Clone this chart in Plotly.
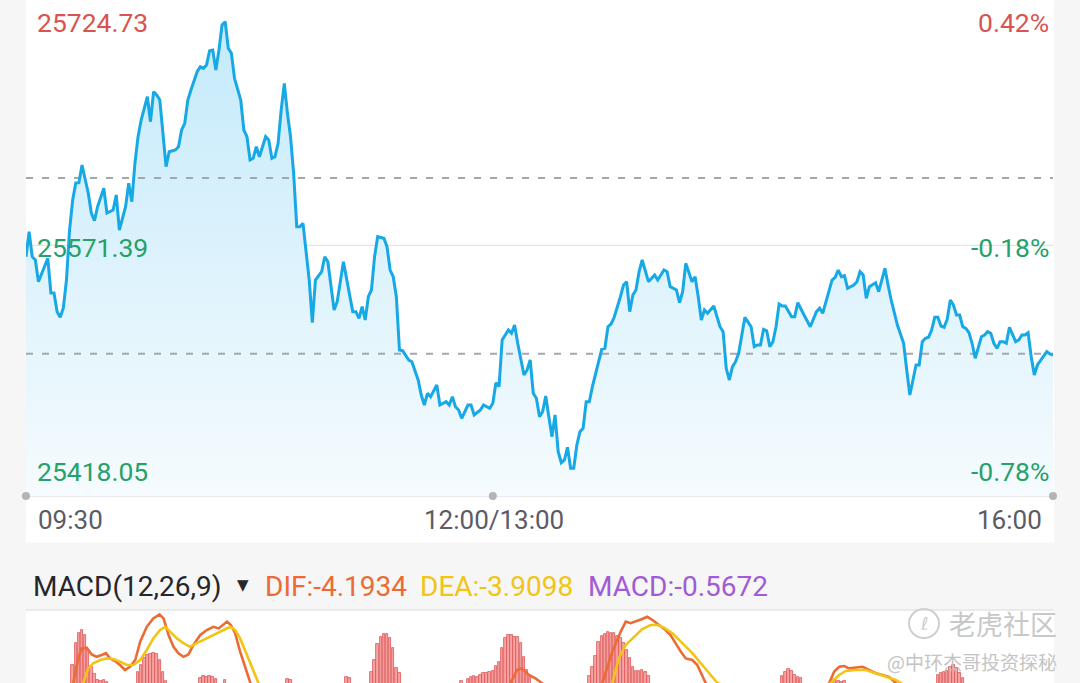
import plotly.graph_objects as go

W, H = 1080, 683

# ---------------- data ----------------
# intraday minute index (0 = 09:30, lunch break removed, 330 = 16:00)
minutes = [0, 1, 2, 3, 4, 7, 8, 9, 10, 11, 12, 13, 14, 15, 16, 17, 18, 20, 21, 22, 23, 25, 26, 28, 29, 30,
           32, 33, 34, 35, 36, 37, 39, 40, 41, 42, 43, 44, 45, 46, 48, 49, 50, 51, 52, 53, 55, 56, 57, 58,
           59, 60, 61, 62, 63, 64, 65, 66, 67, 69, 70, 71, 72, 73, 74, 75, 77, 78, 79, 80, 81, 82, 83, 84,
           85, 86, 87, 88, 89, 91, 92, 93, 95, 96, 97, 99, 100, 102, 104, 105, 106, 107, 108, 109, 110, 111,
           112, 113, 115, 116, 117, 118, 119, 120, 121, 123, 124, 126, 127, 128, 129, 130, 132, 133, 135, 136,
           137, 138, 139, 140, 142, 143, 144, 146, 147, 149, 150, 151, 152, 153, 155, 156, 157, 158, 160, 161,
           162, 163, 164, 165, 166, 167, 168, 169, 170, 171, 172, 173, 174, 175, 176, 177, 178, 179, 180, 181,
           182, 184, 185, 186, 187, 188, 189, 191, 192, 193, 194, 195, 196, 197, 198, 200, 202, 203, 205, 206,
           207, 209, 210, 211, 212, 214, 215, 216, 217, 218, 219, 221, 223, 224, 225, 226, 227, 228, 229, 231,
           232, 233, 234, 235, 236, 237, 238, 239, 240, 241, 242, 243, 244, 246, 247, 248, 250, 251, 252, 254,
           255, 256, 258, 259, 260, 261, 262, 263, 264, 266, 267, 268, 269, 270, 271, 273, 274, 275, 276, 277,
           278, 280, 281, 282, 283, 284, 285, 286, 287, 288, 289, 290, 291, 292, 293, 294, 295, 296, 297, 298,
           299, 300, 301, 302, 303, 304, 305, 306, 307, 308, 309, 310, 311, 312, 313, 314, 315, 316, 318, 319,
           320, 321, 322, 323, 324, 325, 326, 327, 328, 329, 330]
prices = [25564.43, 25579.72, 25564.43, 25562.41, 25549.14, 25563.45, 25542.23, 25542.23, 25530.79, 25527.36,
          25533.05, 25550.18, 25580.76, 25599.11, 25609.51, 25609.70, 25620.52, 25603.40, 25591.16, 25586.45,
          25595.02, 25606.27, 25591.16, 25593.00, 25602.17, 25580.76, 25595.02, 25609.33, 25598.07, 25621.56,
          25637.83, 25648.05, 25662.30, 25647.01, 25665.36, 25663.34, 25660.28, 25641.93, 25619.48, 25628.66,
          25629.70, 25631.72, 25641.93, 25646.03, 25660.28, 25666.40, 25677.59, 25680.65, 25679.67, 25681.69,
          25690.44, 25690.87, 25678.63, 25690.87, 25706.16, 25708.18, 25691.91, 25688.85, 25673.56, 25660.28,
          25641.93, 25637.83, 25623.58, 25624.62, 25631.72, 25625.60, 25637.83, 25635.82, 25624.62, 25625.60,
          25633.80, 25654.17, 25670.50, 25652.15, 25637.83, 25615.45, 25582.78, 25582.78, 25584.86, 25550.18,
          25524.06, 25550.18, 25555.26, 25564.43, 25561.37, 25531.83, 25536.90, 25561.37, 25539.96, 25530.79,
          25530.79, 25526.75, 25533.85, 25525.71, 25539.96, 25544.06, 25564.43, 25576.66, 25575.69, 25570.55,
          25556.29, 25552.20, 25539.96, 25507.36, 25506.93, 25501.24, 25500.20, 25489.01, 25479.83, 25473.71,
          25480.87, 25478.79, 25485.95, 25473.71, 25475.73, 25473.71, 25478.79, 25472.67, 25470.66, 25465.58,
          25473.71, 25473.71, 25467.60, 25470.66, 25473.71, 25471.70, 25474.75, 25487.36, 25484.91, 25513.48,
          25519.59, 25517.57, 25522.65, 25511.46, 25492.07, 25495.12, 25501.24, 25480.87, 25477.81, 25466.56,
          25469.62, 25479.22, 25466.56, 25454.32, 25467.60, 25445.15, 25438.42, 25440.07, 25447.84, 25434.99,
          25434.99, 25449.25, 25457.38, 25459.46, 25475.73, 25475.73, 25484.91, 25500.20, 25507.79, 25508.40,
          25521.61, 25523.26, 25527.36, 25539.96, 25547.12, 25549.14, 25530.79, 25541.00, 25544.06, 25555.26,
          25562.41, 25549.14, 25553.24, 25550.18, 25556.29, 25555.26, 25546.08, 25544.06, 25536.29, 25543.02,
          25560.39, 25549.14, 25552.20, 25539.96, 25525.71, 25531.83, 25529.81, 25534.27, 25521.61, 25518.55,
          25496.16, 25489.01, 25497.14, 25500.20, 25505.34, 25527.36, 25524.67, 25521.61, 25509.38, 25510.42,
          25510.42, 25520.02, 25519.16, 25509.38, 25512.44, 25521.61, 25535.50, 25534.27, 25534.27, 25527.73,
          25527.73, 25536.29, 25528.77, 25524.67, 25521.61, 25530.79, 25532.87, 25529.81, 25543.02, 25550.18,
          25551.83, 25556.29, 25552.20, 25552.81, 25545.10, 25547.12, 25549.14, 25555.26, 25553.24, 25538.98,
          25546.08, 25548.53, 25543.02, 25550.18, 25557.33, 25547.12, 25537.94, 25522.65, 25517.57, 25511.46,
          25495.12, 25479.83, 25489.01, 25498.18, 25498.18, 25512.44, 25514.52, 25515.13, 25519.59, 25527.36,
          25527.36, 25522.04, 25521.24, 25526.14, 25537.94, 25534.88, 25528.77, 25528.77, 25521.61, 25520.63,
          25517.94, 25511.46, 25502.28, 25509.01, 25515.49, 25516.53, 25518.55, 25517.57, 25511.46, 25508.40,
          25512.44, 25512.44, 25511.46, 25521.24, 25512.44, 25513.48, 25516.53, 25516.53, 25517.94, 25503.26,
          25492.07, 25498.18, 25500.81, 25503.69, 25506.32, 25504.91, 25504.30]

range_top = 25724.73
range_mid = 25571.39
range_bottom = 25418.05
price_labels = ["25724.73", "25571.39", "25418.05"]
pct_labels = ["0.42%", "-0.18%", "-0.78%"]
dash_levels = [25612.6, 25505.0]
time_ticks = [0, 150, 330]
time_labels = ["09:30", "12:00/13:00", "16:00"]

# MACD histogram (visible positive bars)
macd_bar_minutes = [15, 16, 17, 18, 19, 20, 21, 22, 23, 24, 25, 26,
                    36, 37, 38, 39, 40, 41, 42, 43, 44, 45,
                    56, 57, 58, 59, 60, 61, 64, 84, 85, 103, 104,
                    111, 112, 113, 114, 115, 116, 117, 118, 119, 120,
                    140, 142, 143, 144, 145, 146, 147, 148, 149, 150, 151, 152, 153, 154, 155, 156, 157, 158,
                    159, 160, 161, 162,
                    181, 182, 183, 184, 185, 186, 187, 188, 189, 190, 191, 192, 193, 194, 195, 196, 197, 198,
                    199, 200,
                    243, 244, 245, 246, 247, 248, 249, 259, 260, 261, 262, 263,
                    293, 294, 295, 296, 297, 298, 299, 300, 301]
macd_bar_values = [13.75, 19.25, 21.75, 22.5, 21.25, 17.5, 13.25, 11.5, 10.0, 9.75, 10.0, 9.5,
                   12.0, 13.75, 15.5, 16.25, 16.5, 16.75, 16.5, 15.0, 12.0, 9.75,
                   10.5, 11.0, 10.75, 11.0, 10.75, 10.25, 10.0, 10.25, 10.0, 10.75, 10.5,
                   12.0, 15.0, 19.0, 20.75, 21.5, 21.5, 20.5, 18.0, 13.0, 11.75,
                   9.75, 10.25, 10.75, 11.0, 10.75, 11.25, 11.75, 11.75, 12.0, 12.25, 13.5, 14.5, 18.0, 20.5,
                   21.25, 21.25, 20.75, 20.75, 19.25, 15.75, 12.5, 10.75,
                   11.0, 13.25, 16.0, 19.5, 21.0, 21.5, 22.0, 21.75, 21.75, 21.0, 20.5, 19.25, 17.5, 15.5,
                   13.25, 12.25, 12.25, 12.5, 12.0, 11.0,
                   11.0, 12.0, 12.75, 12.25, 11.25, 10.75, 10.5, 10.0, 10.25, 9.75, 9.5, 9.75,
                   11.25, 11.75, 12.0, 12.25, 13.25, 13.75, 13.0, 11.75, 10.5]

dif_minutes = [0, 13, 15.2, 16.8, 17.9, 19.5, 21.1, 22.7, 24.3, 25.7, 27.0, 28.6, 30.2, 31.8, 33.4, 35.1, 36.7,
               38.8, 40.9, 42.9, 44.2, 45.8, 47.4, 49.0, 50.6, 52.2, 53.8, 56.0, 58.1, 60.2, 61.9, 62.9, 64.6,
               65.8, 67.2, 68.8, 70.4, 71.5, 76, 90, 110, 130, 150, 155.7, 157.8, 158.9, 159.9, 161.6, 163.7,
               165.3, 170, 178, 183, 185.2, 188.4, 191.1, 192.7, 194.3, 195.9, 198.0, 199.6, 201.3, 203.4,
               205.5, 207.1, 208.7, 210.4, 212.0, 214.1, 215.7, 217.3, 218.4, 225, 240, 252, 256, 258.1, 259.7,
               261.3, 262.9, 264.5, 266.6, 268.8, 270.9, 273.1, 275.2, 277.3, 279.5, 285, 295, 305, 315, 330]
dif_values = [0, 4, 9.25, 15.4, 17.9, 18.1, 16.4, 15.8, 16.25, 16.7, 15.4, 14.75, 13.75, 12.5, 13.3, 15.0, 19.6,
              23.3, 25.4, 26.4, 25.4, 21.25, 18.3, 16.7, 15.8, 16.4, 18.75, 21.25, 22.5, 23.3, 22.9, 23.6, 24.6,
              23.75, 21.7, 17.1, 12.5, 9.25, 0, -12, -15, -12, 2, 9.25, 12.5, 12.9, 12.5, 11.25, 10.4,
              9.5, 7, -2, 5, 9.25, 17.1, 22.1, 24.6, 24.2, 24.6, 25.25, 25.8, 25.0, 23.75,
              22.5, 21.25, 19.2, 17.1, 15.4, 15.0, 13.75, 11.25, 9.25, 4, 2, 5, 7, 9.25, 12.1,
              13.3, 13.5, 12.9, 13.1, 13.3, 12.5, 11.7, 11.25, 10.8, 9.25, 4, 2, 1, -1, -4.1934]

dea_minutes = [0, 15, 18.4, 20.0, 21.6, 23.8, 26.0, 28.1, 30.2, 32.4, 34.5, 36.7, 38.8, 40.9, 43.1, 44.7, 46.3,
               48.5, 50.6, 52.7, 54.9, 57.0, 59.2, 61.3, 63.5, 65.6, 67.2, 68.8, 71.0, 73.1, 74.7, 80, 100, 130,
               160, 180, 185, 188.4, 190.5, 192.7, 195.3, 198.0, 200.7, 202.9, 205.0, 207.7, 210.9, 214.1,
               217.3, 220.5, 222.2, 240, 254, 258.6, 261.3, 263.4, 266.6, 269.9, 273.1, 276.3, 279.5, 281.1,
               290, 310, 330]
dea_values = [0, 3, 9.25, 12.9, 14.2, 15.0, 15.4, 15.25, 14.6, 13.75, 13.75, 15.0, 17.5, 20.4, 22.5, 23.3, 22.1,
              20.4, 19.2, 18.3, 19.2, 20.0, 20.8, 21.7, 22.5, 23.3, 22.5, 20.4, 16.25, 12.1, 9.25, 4, -8, -10,
              -2, 0, 4, 9.25, 15.4, 18.75, 20.8, 22.75, 23.75, 23.75, 23.1, 21.7, 19.2, 16.7,
              13.75, 10.8, 9.25, 4, 6, 9.25, 11.25, 12.25, 12.5, 12.5, 11.7, 10.8, 10.0, 9.25,
              5, 1, -3.9098]

macd_title = "MACD(12,26,9)"
dif_label = "DIF:-4.1934"
dea_label = "DEA:-3.9098"
macd_label = "MACD:-0.5672"

# ---------------- styling ----------------
RED = "#d9534f"
GREEN = "#27a06a"
GRAY_TXT = "#5b5b66"
LINE_BLUE = "#17a8e6"
DIF_C = "#ec6b35"
DEA_C = "#f2c414"
MACD_C = "#a25bd6"

X0, X1 = 26, 1053          # plot left / right pixel
MAIN_BOTTOM = 496          # pixel of the main plot bottom
MACD_TOP = 610
px_per_val = 0.6117        # value units per pixel in main panel


def px(x):
    return x / W


def py(y):
    return 1 - y / H


fig = go.Figure()

# area fill
fig.add_trace(go.Scatter(
    x=minutes, y=prices, mode="lines", line=dict(width=0, color=LINE_BLUE),
    fill="tozeroy",
    fillgradient=dict(type="vertical",
                      colorscale=[[0, "#f5fbfe"], [1, "#c2e9fa"]],
                      start=range_bottom, stop=range_bottom + MAIN_BOTTOM * px_per_val),
    hoverinfo="skip", showlegend=False, xaxis="x", yaxis="y"))

# dashed reference lines
for lv in dash_levels:
    fig.add_trace(go.Scatter(
        x=[time_ticks[0], time_ticks[-1]], y=[lv, lv], mode="lines",
        line=dict(color="#a3a7ae", width=2, dash="7px,9px"),
        hoverinfo="skip", showlegend=False, xaxis="x", yaxis="y"))

# price line
fig.add_trace(go.Scatter(
    x=minutes, y=prices, mode="lines", line=dict(width=3, color=LINE_BLUE),
    showlegend=False, xaxis="x", yaxis="y"))

# axis dots
fig.add_trace(go.Scatter(
    x=time_ticks, y=[range_bottom] * len(time_ticks), mode="markers",
    marker=dict(size=8, color="#b4b4b8"), cliponaxis=False,
    hoverinfo="skip", showlegend=False, xaxis="x", yaxis="y"))

# MACD histogram
fig.add_trace(go.Bar(
    x=macd_bar_minutes, y=macd_bar_values, width=0.8,
    marker=dict(color="#f5a3a3", line=dict(color="#de5656", width=0.8)),
    showlegend=False, xaxis="x2", yaxis="y2"))

fig.add_trace(go.Scatter(
    x=dif_minutes, y=dif_values, mode="lines", line=dict(color=DIF_C, width=2.6),
    showlegend=False, xaxis="x2", yaxis="y2"))
fig.add_trace(go.Scatter(
    x=dea_minutes, y=dea_values, mode="lines", line=dict(color=DEA_C, width=2.6),
    showlegend=False, xaxis="x2", yaxis="y2"))

shapes = [
    # white panels
    dict(type="rect", xref="paper", yref="paper", x0=px(26), x1=px(1054), y0=py(542.5), y1=1,
         fillcolor="white", line=dict(width=0), layer="below"),
    dict(type="rect", xref="paper", yref="paper", x0=px(26), x1=px(1054), y0=0, y1=py(MACD_TOP),
         fillcolor="white", line=dict(width=0), layer="below"),
    dict(type="line", xref="paper", yref="paper", x0=px(26), x1=px(1054), y0=py(MACD_TOP), y1=py(MACD_TOP),
         line=dict(color="#e4e4e6", width=1.5), layer="below"),
    # mid gridline
    dict(type="line", xref="x domain", yref="y", x0=0, x1=1, y0=range_mid, y1=range_mid,
         line=dict(color="#e3e3e6", width=1.2), layer="below"),
    # bottom axis line
    dict(type="line", xref="x domain", yref="y domain", x0=0, x1=1, y0=0, y1=0,
         line=dict(color="#e3e3e6", width=1.5), layer="below"),
    # watermark logo circle
    dict(type="circle", xref="paper", yref="paper", x0=px(909), x1=px(939), y0=py(638), y1=py(609),
         line=dict(color="#cfcfcf", width=2), layer="above"),
]

ann = []
FONT = "Roboto"


def label(text, x, y, color, size=26, anchor="left", family=FONT):
    ann.append(dict(text=text, x=px(x), y=py(y), xref="paper", yref="paper", showarrow=False,
                    xanchor=anchor, yanchor="middle", font=dict(family=family, size=size, color=color)))


label(price_labels[0], 35, 23, RED, size=26.5)
label(price_labels[1], 35, 247, GREEN, size=26.5)
label(price_labels[2], 35, 471.5, GREEN, size=26.5)
label(pct_labels[0], 1051, 23, RED, size=26.5, anchor="right")
label(pct_labels[1], 1051, 247, GREEN, size=26.5, anchor="right")
label(pct_labels[2], 1051, 471.5, GREEN, size=26.5, anchor="right")
label(time_labels[0], 36, 520, GRAY_TXT)
label(time_labels[1], 494, 520, GRAY_TXT, anchor="center")
label(time_labels[2], 1044, 520, GRAY_TXT, anchor="right")

label(macd_title, 31, 586, "#26262b", size=28)
label("▼", 243, 585, "#26262b", size=15, anchor="center", family="DejaVu Sans")
label(dif_label, 263, 586, DIF_C, size=28)
label(dea_label, 418, 586, DEA_C, size=28)
label(macd_label, 586, 586, MACD_C, size=28)

# watermark
label("老虎社区", 1059, 623, "#c8c8c8", size=27, anchor="right", family="Noto Sans CJK SC")
label("@中环杰哥投资探秘", 1059, 661, "#c4c4c4", size=19, anchor="right", family="Noto Sans CJK SC")
label("ℓ", 924, 623, "#cfcfcf", size=18, anchor="center", family="DejaVu Sans")

main_top_val = range_bottom + MAIN_BOTTOM * px_per_val

fig.update_layout(
    width=W, height=H,
    margin=dict(l=0, r=0, t=0, b=0),
    paper_bgcolor="#f6f6f6",
    plot_bgcolor="rgba(0,0,0,0)",
    bargap=0,
    xaxis=dict(domain=[px(X0), px(X1)], range=[time_ticks[0], time_ticks[-1]], visible=False, fixedrange=True),
    yaxis=dict(domain=[py(MAIN_BOTTOM), 1], range=[range_bottom, main_top_val], visible=False),
    xaxis2=dict(domain=[px(X0), px(X1)], range=[time_ticks[0], time_ticks[-1]], visible=False, anchor="y2"),
    yaxis2=dict(domain=[0, py(MACD_TOP)], range=[9.25, 27.5], visible=False, anchor="x2"),
    shapes=shapes,
    annotations=ann,
    showlegend=False,
)

fig.write_html(
    "out.html",
    config={"displayModeBar": False},
    post_script="document.body.style.margin='0';document.body.style.padding='0';"
                "document.body.style.background='#f6f6f6';",
)
